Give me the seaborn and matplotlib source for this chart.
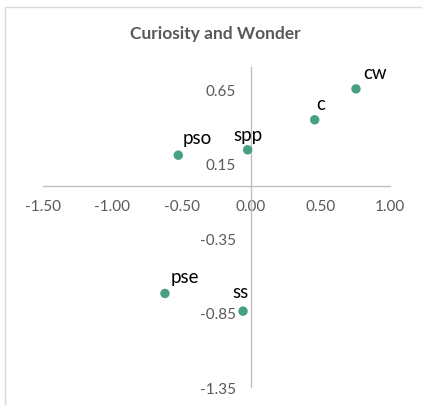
import matplotlib
matplotlib.use("Agg")
import matplotlib.pyplot as plt
import seaborn as sns
import pandas as pd
from matplotlib.lines import Line2D

# Data
labels = ["cw", "c", "spp", "pso", "pse", "ss"]
x_vals = [0.755, 0.458, -0.025, -0.524, -0.620, -0.058]
y_vals = [0.655, 0.447, 0.245, 0.209, -0.721, -0.840]
x_ticks = [-1.50, -1.00, -0.50, 0.00, 0.50, 1.00]
y_ticks = [-1.35, -0.85, -0.35, 0.15, 0.65]
title = "Curiosity and Wonder"

# label offsets (points) - style only
label_offsets = {"cw": (14, 11.5), "c": (4.5, 11.5), "spp": (0, 11), "pso": (14, 13),
                 "pse": (14, 12.5), "ss": (-2, 14.5)}

sns.set_theme(style="white")
plt.rcParams["font.family"] = ["Lato", "DejaVu Sans"]

W, H = 422, 406
fig = plt.figure(figsize=(W / 100, H / 100), dpi=100)
left_px, right_px, top_px, bottom_px = 42.7, 390.0, 68.3, 388.0
ax = fig.add_axes([left_px / W, 1 - bottom_px / H, (right_px - left_px) / W, (bottom_px - top_px) / H])

df = pd.DataFrame({"x": x_vals, "y": y_vals, "label": labels})
sns.scatterplot(data=df, x="x", y="y", ax=ax, color="#47A086", s=46, edgecolor="none", zorder=3)

ax.set_xlim(-1.5, 1.0)
ax.set_ylim(-1.35, 0.8)
ax.set_xticks(x_ticks)
ax.set_yticks(y_ticks)
ax.set_xticklabels([f"{v:.2f}" for v in x_ticks])
ax.set_yticklabels([f"{v:.2f}" for v in y_ticks])
ax.set_xlabel("")
ax.set_ylabel("")

for side in ["top", "right"]:
    ax.spines[side].set_visible(False)
ax.spines["left"].set_position(("data", 0))
ax.spines["bottom"].set_position(("data", 0))
for side in ["left", "bottom"]:
    ax.spines[side].set_color("#BFBFBF")
    ax.spines[side].set_linewidth(1.0)
ax.tick_params(axis="x", length=0, pad=9.5, labelsize=11, labelcolor="#595959")
ax.tick_params(axis="y", length=0, pad=11, labelsize=11, labelcolor="#595959")
ax.patch.set_alpha(0)

for lab, xv, yv in zip(labels, x_vals, y_vals):
    dx, dy = label_offsets[lab]
    ax.annotate(lab, (xv, yv), xytext=(dx, dy), textcoords="offset points",
                ha="center", va="center", fontsize=13.5, color="#000000")

fig.text(215 / W, 1 - 34.5 / H, title, ha="center", va="center", fontsize=12.5,
         fontweight="bold", color="#595959")

# outer chart border (partially visible)
fig.add_artist(Line2D([4.5 / W, 1.0], [1 - 7.5 / H, 1 - 7.5 / H], transform=fig.transFigure,
                      color="#D9D9D9", linewidth=1.0))
fig.add_artist(Line2D([4.5 / W, 4.5 / W], [0, 1 - 7.5 / H], transform=fig.transFigure,
                      color="#D9D9D9", linewidth=1.0))

fig.savefig("out.png", dpi=100, facecolor="white")
